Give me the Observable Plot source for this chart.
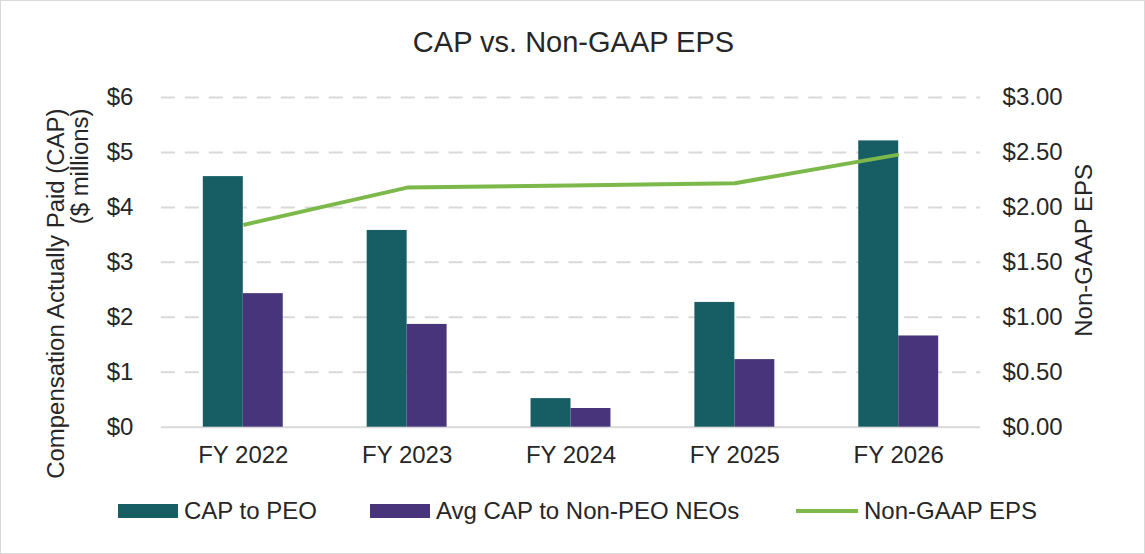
<!DOCTYPE html>
<html>
<head>
<meta charset="utf-8">
<script src="https://cdn.jsdelivr.net/npm/d3@7"></script>
<script src="https://cdn.jsdelivr.net/npm/@observablehq/plot@0.6"></script>
<style>
  html, body { margin: 0; padding: 0; background: #fff; }
  #wrap { position: relative; width: 1145px; height: 554px; box-sizing: border-box; border: 1px solid #d9d9d9; overflow: hidden;
          font-family: "Liberation Sans", Arial, sans-serif; color: #262626; }
  #title { position: absolute; left: 0; width: 1145px; top: 27px; text-align: center; font-size: 29px; line-height: 29px; }
  #chart { position: absolute; left: -1px; top: 69px; }
  .item { position: absolute; top: 498px; height: 24px; display: flex; align-items: center; font-size: 24px; line-height: 24px; white-space: nowrap; }
  .sw { width: 60px; height: 14px; margin-right: 6px; }
  .ln { width: 62px; height: 4px; margin-right: 6px; }
</style>
</head>
<body>
<div id="wrap">
  <div id="title">CAP vs. Non-GAAP EPS</div>
  <div id="chart"></div>
  <div id="legend"></div>
</div>
<script>
const years = ["FY 2022", "FY 2023", "FY 2024", "FY 2025", "FY 2026"];
const capPEO = [4.56, 3.58, 0.52, 2.27, 5.21];
const capNEO = [2.43, 1.87, 0.34, 1.23, 1.66];
const eps = [1.84, 2.18, 2.20, 2.22, 2.48];
const leftTicks = [0, 1, 2, 3, 4, 5, 6];
const seriesNames = ["CAP to PEO", "Avg CAP to Non-PEO NEOs", "Non-GAAP EPS"];
const colors = ["#165e63", "#48347a", "#7cb94a"];
const leftTitle = ["Compensation Actually Paid (CAP)", "($ millions)"];
const rightTitle = "Non-GAAP EPS";

const rows = years.map((y, i) => ({year: y, peo: capPEO[i], neo: capNEO[i], eps: eps[i]}));

const plot = Plot.plot({
  width: 1145,
  height: 410,
  marginTop: 27,
  marginBottom: 53,
  marginLeft: 161,
  marginRight: 164,
  style: {fontSize: "24px", fontFamily: "'Liberation Sans', Arial, sans-serif", color: "#262626", background: "transparent"},
  x: {domain: years, paddingInner: 0.512, paddingOuter: 0.256, label: null},
  y: {domain: [0, 6], label: null},
  marks: [
    Plot.ruleY(leftTicks.filter(d => d > 0), {stroke: "#d9d9d9", strokeWidth: 2, strokeDasharray: "14,10"}),
    Plot.ruleY([0], {stroke: "#d9d9d9", strokeWidth: 2}),
    Plot.barY(rows, {x: "year", y: "peo", fill: colors[0], insetRight: 40, insetLeft: 0}),
    Plot.barY(rows, {x: "year", y: "neo", fill: colors[1], insetLeft: 40, insetRight: 0}),
    Plot.line(rows, {x: "year", y: d => d.eps * 2, stroke: colors[2], strokeWidth: 4, strokeLinecap: "butt", strokeLinejoin: "round"}),
    Plot.axisX({tickSize: 0, tickPadding: 19, label: null, fill: "#262626"}),
    Plot.axisY({anchor: "left", ticks: leftTicks, tickFormat: d => "$" + d, tickSize: 0, tickPadding: 28, label: null, fill: "#262626"}),
    Plot.axisY({anchor: "right", ticks: leftTicks, tickFormat: d => "$" + (d / 2).toFixed(2), tickSize: 0, tickPadding: 22, label: null, fill: "#262626"}),
    Plot.text([leftTitle[0]], {text: d => d, frameAnchor: "top-left", rotate: -90, textAnchor: "end", dx: -114, dy: 11, fill: "#262626"}),
    Plot.text([leftTitle[1]], {text: d => d, frameAnchor: "top-left", rotate: -90, textAnchor: "end", dx: -90, dy: 11, fill: "#262626"}),
    Plot.text([rightTitle], {text: d => d, frameAnchor: "right", rotate: -90, textAnchor: "middle", dx: 104, dy: -12, fill: "#262626"})
  ]
});
document.getElementById("chart").appendChild(plot);

const legend = document.getElementById("legend");
const lefts = [117, 369, 795];
seriesNames.forEach((name, i) => {
  const item = document.createElement("div");
  item.className = "item";
  item.style.left = lefts[i] + "px";
  const sw = document.createElement("div");
  sw.className = i === 2 ? "ln" : "sw";
  sw.style.background = colors[i];
  const t = document.createElement("span");
  t.textContent = name;
  item.appendChild(sw);
  item.appendChild(t);
  legend.appendChild(item);
});
</script>
</body>
</html>
